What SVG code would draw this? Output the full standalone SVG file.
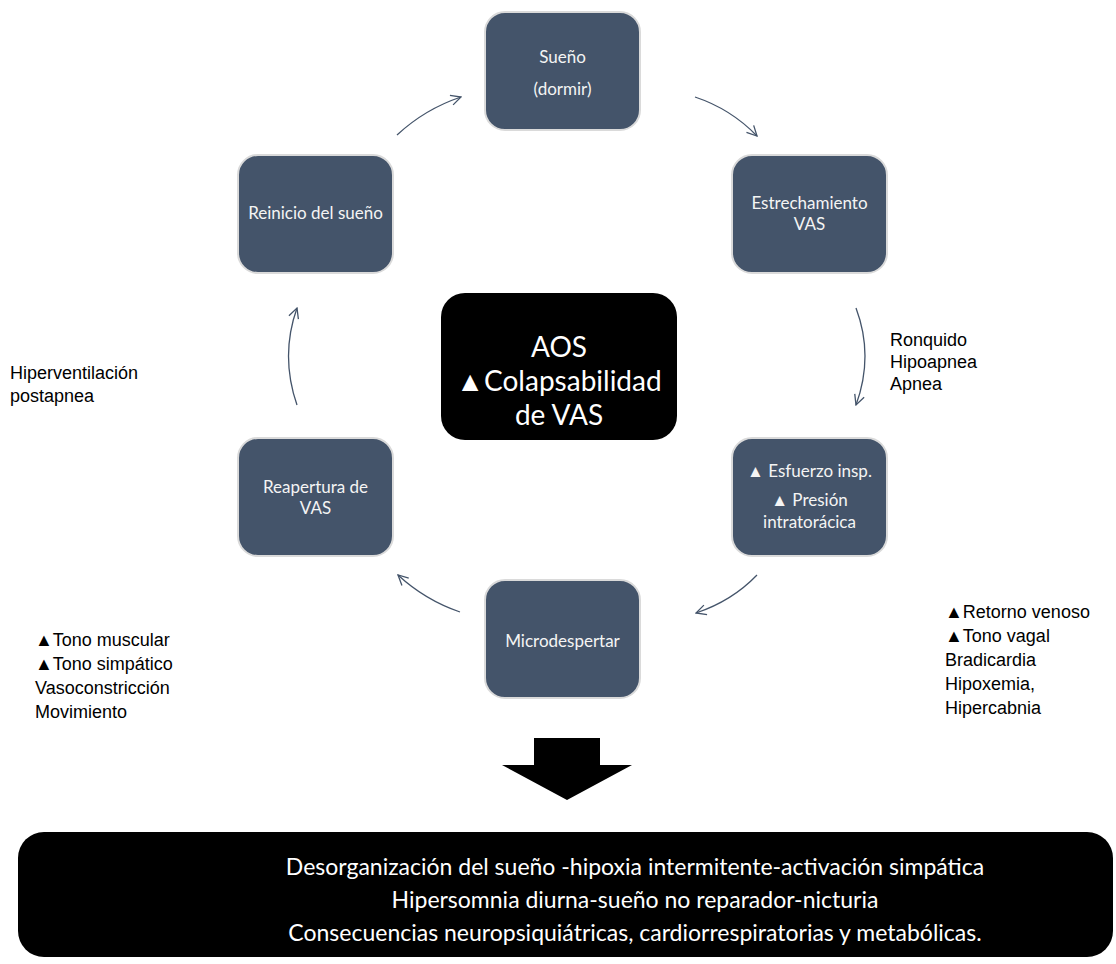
<svg xmlns="http://www.w3.org/2000/svg" width="1116" height="964" viewBox="0 0 1116 964">
<defs>
<style>
.node rect{fill:#44546A;stroke:#DADADA;stroke-width:2}
.nt{font-family:Lato,"Open Sans",sans-serif;font-size:17px;fill:#F4F4F4;text-anchor:middle}
.ct{font-family:Lato,"Open Sans",sans-serif;font-size:28px;fill:#FFFFFF;text-anchor:middle}
.bt{font-family:Lato,"Open Sans",sans-serif;font-size:23px;fill:#FFFFFF;text-anchor:middle}
.ann{font-family:"Liberation Sans",Arial,sans-serif;font-size:18px;fill:#000000}
.conn path{fill:none;stroke:#44546A;stroke-width:1.3;marker-end:url(#oa)}
</style>
<marker id="oa" viewBox="0 0 12 12" refX="11" refY="6" markerWidth="12" markerHeight="12" markerUnits="userSpaceOnUse" orient="auto">
<path d="M1,1 L11,6 L1,11" fill="none" stroke="#44546A" stroke-width="1.3"/>
</marker>
</defs>
<rect width="1116" height="964" fill="#FFFFFF"/>

<g id="connectors" class="conn">
<path d="M397,135 Q425,109 461,97"/>
<path d="M695,97 Q731,109 757,136"/>
<path d="M856,308 Q874,356 856,405"/>
<path d="M757,575 Q732,601 696,613"/>
<path d="M460,612 Q425,600 398,575"/>
<path d="M297,405 Q280,356 297,308"/>
</g>

<g id="node-sueno" class="node">
<rect x="485" y="12" width="155" height="118" rx="20"/>
<text class="nt" x="562.5" y="63">Sueño</text>
<text class="nt" x="562.5" y="95">(dormir)</text>
</g>
<g id="node-estrechamiento" class="node">
<rect x="732" y="155" width="155" height="118" rx="20"/>
<text class="nt" x="809.5" y="209">Estrechamiento</text>
<text class="nt" x="809.5" y="230">VAS</text>
</g>
<g id="node-esfuerzo" class="node">
<rect x="732" y="438" width="155" height="118" rx="20"/>
<text class="nt" x="809.5" y="477">▲ Esfuerzo insp.</text>
<text class="nt" x="809.5" y="506">▲ Presión</text>
<text class="nt" x="809.5" y="528">intratorácica</text>
</g>
<g id="node-microdespertar" class="node">
<rect x="485" y="580" width="155" height="118" rx="20"/>
<text class="nt" x="562.5" y="647">Microdespertar</text>
</g>
<g id="node-reapertura" class="node">
<rect x="238" y="438" width="155" height="118" rx="20"/>
<text class="nt" x="315.5" y="493">Reapertura de</text>
<text class="nt" x="315.5" y="514">VAS</text>
</g>
<g id="node-reinicio" class="node">
<rect x="238" y="155" width="155" height="118" rx="20"/>
<text class="nt" x="315.5" y="219">Reinicio del sueño</text>
</g>

<g id="node-aos">
<rect x="441" y="293" width="236" height="147" rx="24" fill="#000000"/>
<text class="ct" x="559" y="357">AOS</text>
<text class="ct" x="559" y="391">▲Colapsabilidad</text>
<text class="ct" x="559" y="425">de VAS</text>
</g>

<g id="labels">
<text class="ann" x="890" y="346">Ronquido</text>
<text class="ann" x="890" y="368">Hipoapnea</text>
<text class="ann" x="890" y="390">Apnea</text>
<text class="ann" x="10" y="379">Hiperventilación</text>
<text class="ann" x="10" y="402">postapnea</text>
<text class="ann" x="35" y="646">▲Tono muscular</text>
<text class="ann" x="35" y="670">▲Tono simpático</text>
<text class="ann" x="35" y="694">Vasoconstricción</text>
<text class="ann" x="35" y="718">Movimiento</text>
<text class="ann" x="945" y="618">▲Retorno venoso</text>
<text class="ann" x="945" y="642">▲Tono vagal</text>
<text class="ann" x="945" y="666">Bradicardia</text>
<text class="ann" x="945" y="690">Hipoxemia,</text>
<text class="ann" x="945" y="714">Hipercabnia</text>
</g>

<g id="big-arrow">
<polygon points="534,738 600,738 600,765 632,765 567,800 502,765 534,765" fill="#000000"/>
</g>

<g id="node-consecuencias">
<rect x="18" y="832" width="1095" height="125" rx="26" fill="#000000"/>
<text class="bt" x="635" y="875">Desorganización del sueño -hipoxia intermitente-activación simpática</text>
<text class="bt" x="635" y="908">Hipersomnia diurna-sueño no reparador-nicturia</text>
<text class="bt" x="635" y="941">Consecuencias neuropsiquiátricas, cardiorrespiratorias y metabólicas.</text>
</g>
</svg>
